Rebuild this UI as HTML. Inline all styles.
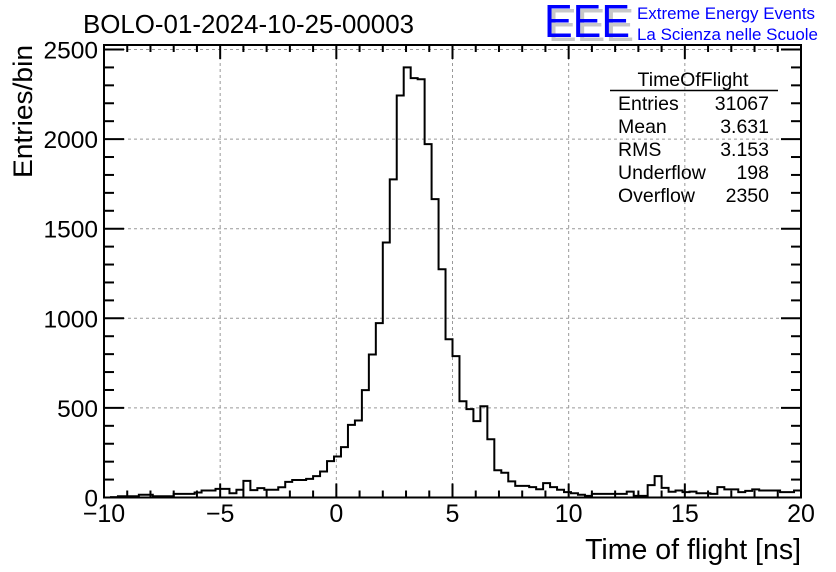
<!DOCTYPE html>
<html><head><meta charset="utf-8"><style>
html,body{margin:0;padding:0;background:#fff;}
svg{display:block;font-family:"Liberation Sans",Arial,sans-serif;}
</style></head><body>
<svg id="chart" width="836" height="572" viewBox="0 0 836 572">
<g id="grid"></g>
<g id="hist"></g>
<g id="axes"></g>
<text x="83" y="33" font-size="25.5" textLength="331" lengthAdjust="spacingAndGlyphs">BOLO-01-2024-10-25-00003</text>
<text transform="translate(32,178) rotate(-90)" font-size="26.5" text-anchor="start" textLength="133" lengthAdjust="spacingAndGlyphs">Entries/bin</text>
<text x="801" y="559" font-size="28.5" text-anchor="end">Time of flight [ns]</text>
<g>
<text x="548" y="41" font-size="46" fill="#c8c8c8" textLength="86" lengthAdjust="spacingAndGlyphs">EEE</text>
<text x="544" y="37" font-size="46" fill="#0000ff" textLength="86" lengthAdjust="spacingAndGlyphs">EEE</text>
<text x="637" y="19" font-size="17" fill="#0000ff" textLength="178" lengthAdjust="spacingAndGlyphs">Extreme Energy Events</text>
<text x="637" y="40" font-size="17" fill="#0000ff" textLength="181" lengthAdjust="spacingAndGlyphs">La Scienza nelle Scuole</text>
</g>
<g font-size="19.5">
<text x="693" y="86" text-anchor="middle">TimeOfFlight</text>
<line x1="610" y1="90.5" x2="778" y2="90.5" stroke="#000" stroke-width="1.5"/>
<text x="618" y="110">Entries</text><text x="769" y="110" text-anchor="end">31067</text>
<text x="618" y="133">Mean</text><text x="769" y="133" text-anchor="end">3.631</text>
<text x="618" y="156">RMS</text><text x="769" y="156" text-anchor="end">3.153</text>
<text x="618" y="179">Underflow</text><text x="769" y="179" text-anchor="end">198</text>
<text x="618" y="202">Overflow</text><text x="769" y="202" text-anchor="end">2350</text>
</g>
</svg>
<script>
const counts = [0,2,7,7,7,15,15,7,7,7,20,20,20,28,39,39,48,48,24,43,93,41,52,43,43,57,87,98,98,104,
119,145,203,229,281,405,430,599,798,973,1423,1775,2243,2400,2340,2334,1972,1665,1274,883,
789,537,493,426,509,325,152,138,90,65,65,58,46,80,58,43,30,24,15,9,
20,20,20,20,20,33,9,9,69,119,54,32,39,30,33,24,24,20,58,45,
45,30,37,45,39,39,39,30,30,39];
const xTicks = [-10,-5,0,5,10,15,20];
const yTicks = [0,500,1000,1500,2000,2500];
const xMin=-10, xMax=20, binW=0.3;
const L=104,R=801,T=45,B=497.5, yPer=448/2500;
const sx=v=>L+(v-xMin)/(xMax-xMin)*(R-L);
const sy=v=>B-v*yPer;
const NS='http://www.w3.org/2000/svg';
function mk(tag,attrs,parent){const e=document.createElementNS(NS,tag);for(const k in attrs)e.setAttribute(k,attrs[k]);parent.appendChild(e);return e;}
const grid=document.getElementById('grid'),hist=document.getElementById('hist'),axes=document.getElementById('axes');
xTicks.slice(1,-1).forEach(v=>{const g=mk('line',{x1:sx(v),x2:sx(v),y1:T,y2:B,stroke:'#999','stroke-dasharray':'3,3','stroke-width':1},grid);

});
yTicks.slice(1).forEach(v=>{const g=mk('line',{x1:L,x2:R,y1:sy(v),y2:sy(v),stroke:'#999','stroke-dasharray':'3,3','stroke-width':1},grid);

});
let d='M'+sx(xMin)+','+sy(0);
counts.forEach((c,i)=>{const x0=sx(xMin+i*binW),x1=sx(xMin+(i+1)*binW);d+=' L'+x0+','+sy(c)+' L'+x1+','+sy(c);});
d+=' L'+sx(xMax)+','+sy(0);
const p=mk('path',{d:d,fill:'none',stroke:'#000','stroke-width':2},hist);


const fr=mk('rect',{x:L,y:T,width:R-L,height:B-T,fill:'none',stroke:'#000','stroke-width':2},axes);


for(let v=xMin;v<=xMax;v++){const major=v%5===0;const len=major?14:7;
mk('line',{x1:sx(v),x2:sx(v),y1:B,y2:B-len,stroke:'#000','stroke-width':2},axes);
mk('line',{x1:sx(v),x2:sx(v),y1:T,y2:T+len,stroke:'#000','stroke-width':2},axes);}
for(let v=0;v<=2500;v+=100){const major=v%500===0;const len=major?20:10;
mk('line',{x1:L,x2:L+len,y1:sy(v),y2:sy(v),stroke:'#000','stroke-width':2},axes);
mk('line',{x1:R,x2:R-len,y1:sy(v),y2:sy(v),stroke:'#000','stroke-width':2},axes);}
xTicks.forEach(v=>{const t=mk('text',{x:sx(v),y:522,'font-size':25,'text-anchor':'middle'},axes);t.textContent=v<0?'\u2212'+Math.abs(v):String(v);

});
yTicks.forEach(v=>{const t=mk('text',{x:98,y:sy(v)+9,'font-size':24.5,'text-anchor':'end'},axes);t.textContent=String(v);

});
</script>
</body></html>
